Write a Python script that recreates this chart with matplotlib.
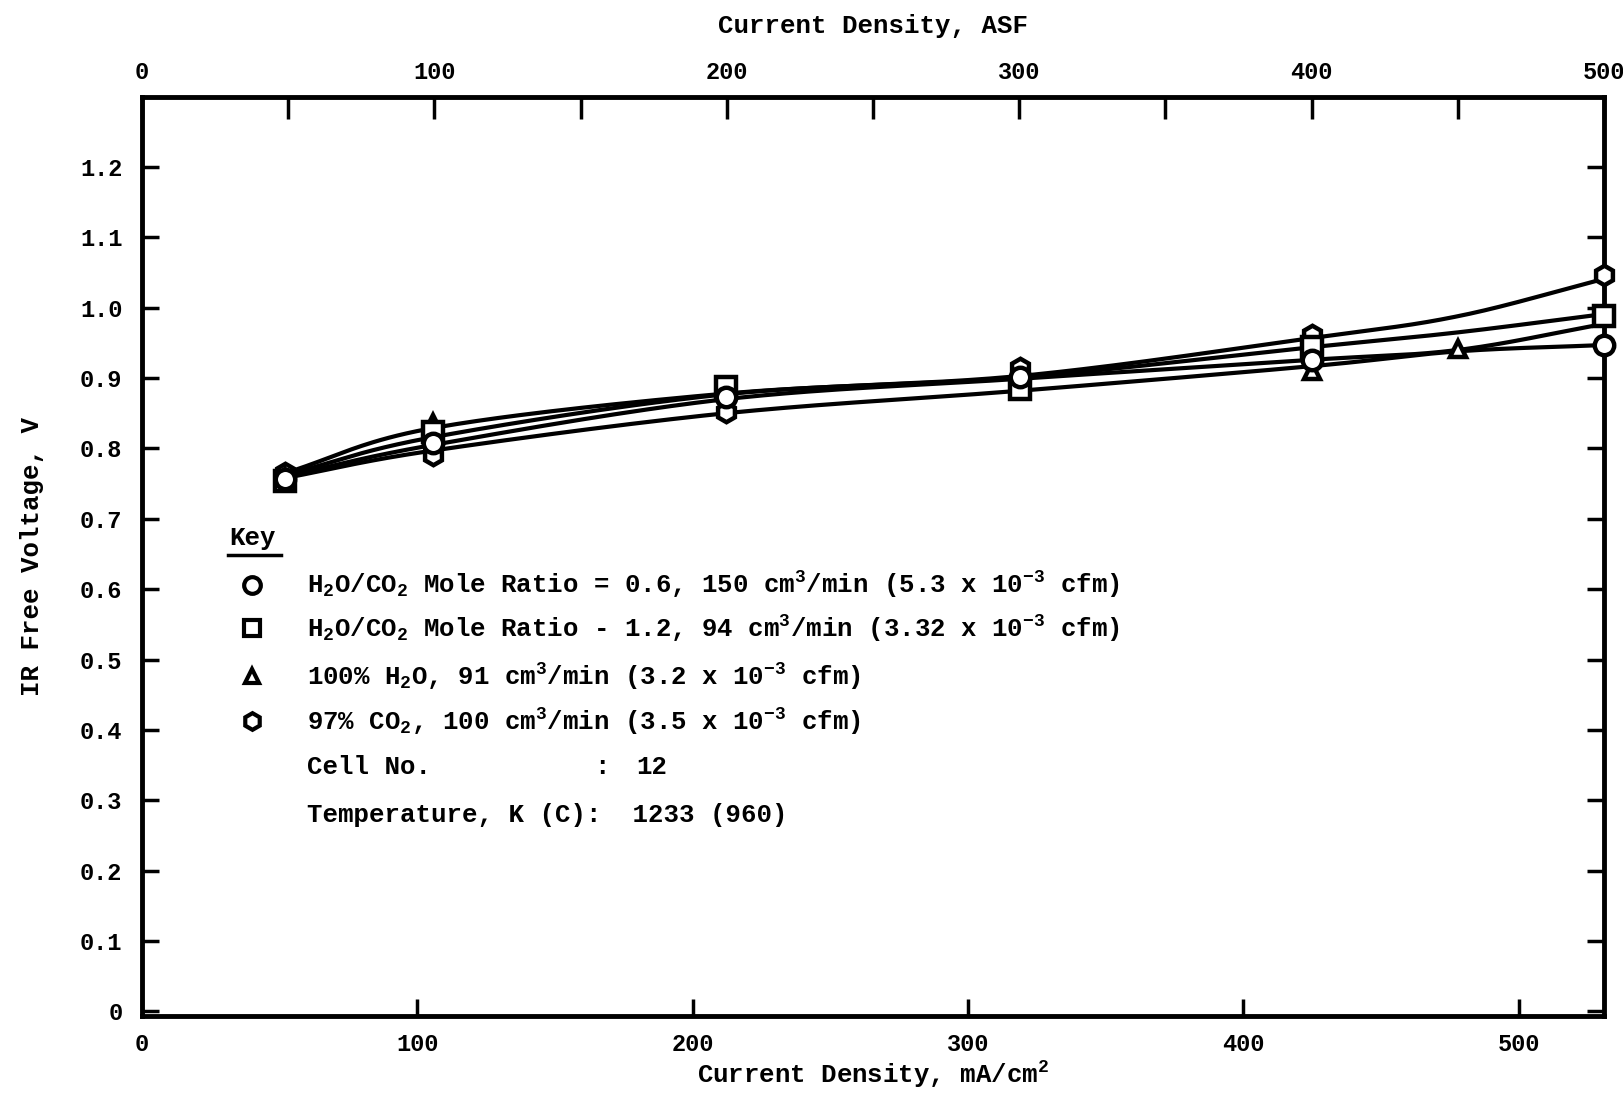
import numpy as np
import matplotlib
matplotlib.use('Agg')
import matplotlib.pyplot as plt

# typewriter look
plt.rcParams['font.family'] = ['Liberation Mono', 'DejaVu Sans Mono']
plt.rcParams['font.weight'] = 'bold'
plt.rcParams['axes.labelweight'] = 'bold'
plt.rcParams['mathtext.fontset'] = 'custom'
plt.rcParams['mathtext.rm'] = 'Liberation Mono:bold'
plt.rcParams['mathtext.it'] = 'Liberation Mono:bold'
plt.rcParams['mathtext.bf'] = 'Liberation Mono:bold'

x_pts = [52, 105.7, 212, 318.8, 425, 531]
v_ratio06 = [0.757, 0.808, 0.873, 0.901, 0.926, 0.947]
v_ratio12 = [0.754, 0.823, 0.887, 0.885, 0.944, 0.988]
x_h2o = [52, 105.7, 212, 318.8, 425, 478]
v_h2o = [0.760, 0.836, 0.880, 0.897, 0.910, 0.942]
v_co2 = [0.765, 0.790, 0.852, 0.915, 0.961, 1.047]

# hand-faired curves as drawn on the figure
x_fit = [52, 105.7, 212, 318.8, 425, 478, 531]
fit_co2 = [0.765, 0.829, 0.878, 0.903, 0.957, 0.988, 1.041]
fit_ratio12 = [0.762, 0.816, 0.877, 0.901, 0.944, 0.965, 0.991]
fit_h2o = [0.760, 0.805, 0.870, 0.899, 0.926, 0.940, 0.977]
fit_ratio06 = [0.758, 0.797, 0.850, 0.882, 0.917, 0.938, 0.947]

x_ticks = [0, 100, 200, 300, 400, 500]
asf_ticks = [0, 50, 100, 150, 200, 250, 300, 350, 400, 450, 500]
y_ticks = [0, 0.1, 0.2, 0.3, 0.4, 0.5, 0.6, 0.7, 0.8, 0.9, 1.0, 1.1, 1.2]

x_max = 531.0
asf_k = x_max / 500.0


def smooth(x, y, n=40):
    # catmull-rom through the knots, only for drawing the curve
    p = np.column_stack([x, y]).astype(float)
    p = np.vstack([2 * p[0] - p[1], p, 2 * p[-1] - p[-2]])
    t = np.linspace(0, 1, n)[:, None]
    segs = []
    for i in range(1, len(p) - 2):
        p0, p1, p2, p3 = p[i - 1], p[i], p[i + 1], p[i + 2]
        segs.append(0.5 * (2 * p1 + (-p0 + p2) * t
                           + (2 * p0 - 5 * p1 + 4 * p2 - p3) * t ** 2
                           + (-p0 + 3 * p1 - 3 * p2 + p3) * t ** 3))
    s = np.vstack(segs)
    return s[:, 0], s[:, 1]


fig = plt.figure(figsize=(16.23, 10.95), dpi=100)
ax = fig.add_axes([0.0874, 0.0718, 0.901, 0.840])

for ys in [fit_co2, fit_ratio12, fit_h2o, fit_ratio06]:
    cx, cy = smooth(x_fit, ys)
    ax.plot(cx, cy, color='black', lw=3, solid_capstyle='round', zorder=2)

series = [
    (x_pts, v_co2, 'h'),
    (x_h2o, v_h2o, '^'),
    (x_pts, v_ratio12, 's'),
    (x_pts, v_ratio06, 'o'),
]
for i, (xs, ys, mk) in enumerate(series):
    ms = 12 if mk == '^' else 14
    ax.plot(xs, ys, ls='none', marker=mk, ms=ms, mfc='white', mec='black',
            mew=3.2, zorder=3 + i, clip_on=False)

ax.set_xlim(0, x_max)
ax.set_ylim(-0.007, 1.30)

ax.set_xticks(x_ticks)
ax.set_xticklabels([str(v) for v in x_ticks], fontsize=17)
ax.set_yticks(y_ticks)
ax.set_yticklabels(['0' if v == 0 else '%.1f' % v for v in y_ticks], fontsize=17)
ax.tick_params(axis='x', direction='in', length=12, width=2.5, pad=12)
ax.tick_params(axis='y', direction='in', length=12, width=2.5, pad=14,
               right=True)
for sp in ax.spines.values():
    sp.set_linewidth(3.5)

ax.set_xlabel('Current Density, mA/cm$^2$', fontsize=18.5, labelpad=2)
ax.set_ylabel('IR Free Voltage, V', fontsize=18.5, labelpad=26)

top = ax.secondary_xaxis('top', functions=(lambda x: x / asf_k,
                                           lambda a: a * asf_k))
top.set_xticks(asf_ticks)
top.set_xticklabels([str(a) if a % 100 == 0 else '' for a in asf_ticks],
                    fontsize=17)
top.tick_params(direction='in', length=16, width=2.5, pad=9)
top.set_xlabel('Current Density, ASF', fontsize=18.5, labelpad=20,
               fontweight='bold')

# key block
tr = ax.transAxes
ax.text(0.060, 0.520, 'Key', transform=tr, fontsize=18.5, va='center')
ax.plot([0.059, 0.095], [0.502, 0.502], transform=tr, color='black', lw=2.5,
        clip_on=False)

key_marks = ['o', 's', '^', 'h']
key_y = [0.469, 0.422, 0.370, 0.321]
key_text = [
    'H$_2$O/CO$_2$ Mole Ratio = 0.6, 150 cm$^3$/min (5.3 x 10$^{-3}$ cfm)',
    'H$_2$O/CO$_2$ Mole Ratio - 1.2, 94 cm$^3$/min (3.32 x 10$^{-3}$ cfm)',
    '100% H$_2$O, 91 cm$^3$/min (3.2 x 10$^{-3}$ cfm)',
    '97% CO$_2$, 100 cm$^3$/min (3.5 x 10$^{-3}$ cfm)',
]
for mk, yy, txt in zip(key_marks, key_y, key_text):
    ms = 10 if mk == '^' else 12
    ax.plot([0.075], [yy], transform=tr, ls='none', marker=mk, ms=ms,
            mfc='white', mec='black', mew=3, clip_on=False)
    ax.text(0.113, yy, txt, transform=tr, fontsize=18.5, va='center')

ax.text(0.113, 0.271, 'Cell No.', transform=tr, fontsize=18.5, va='center')
ax.text(0.309, 0.271, ':', transform=tr, fontsize=18.5, va='center')
ax.text(0.338, 0.271, '12', transform=tr, fontsize=18.5, va='center')
ax.text(0.113, 0.219, 'Temperature, K (C):  1233 (960)', transform=tr,
        fontsize=18.5, va='center')

fig.savefig('out.png', dpi=100)
